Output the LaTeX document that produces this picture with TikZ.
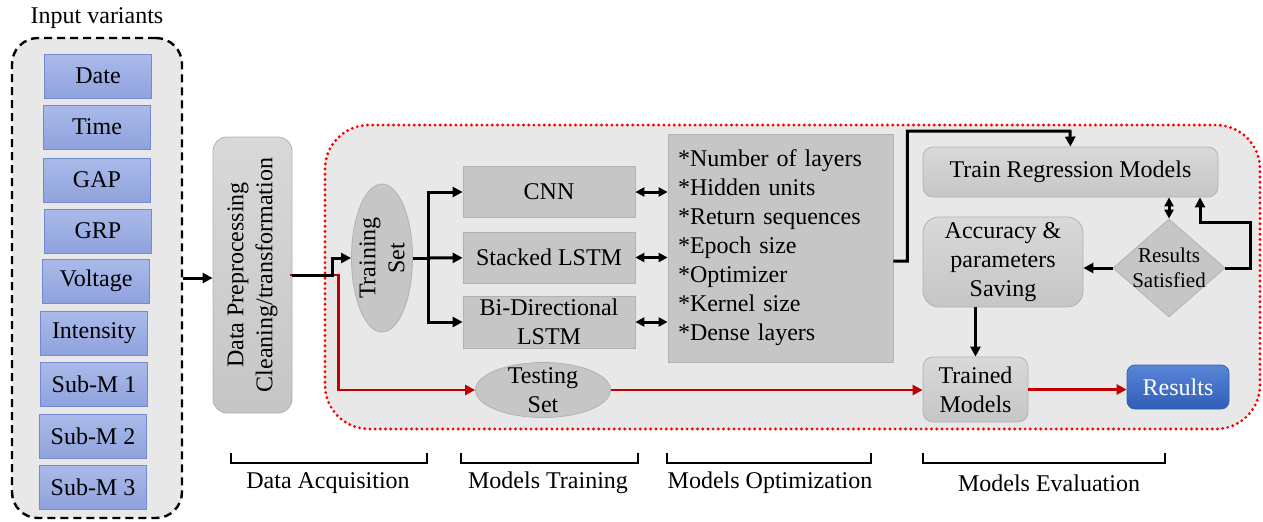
\documentclass[tikz,border=0pt]{standalone}
\usepackage{fontspec}
\setmainfont{Liberation Serif}
\usetikzlibrary{arrows.meta,shapes.geometric}
\definecolor{bglight}{HTML}{E8E8E8}
\definecolor{boxgray}{HTML}{C6C6C6}
\definecolor{boxedge}{HTML}{B2B2B2}
\definecolor{vartop}{HTML}{AABAEA}
\definecolor{varbot}{HTML}{8FA2DC}
\definecolor{varedge}{HTML}{7489D2}
\definecolor{restop}{HTML}{5A85D8}
\definecolor{resbot}{HTML}{2F5EB8}
\definecolor{darkred}{HTML}{C00000}
\begin{document}
\begin{tikzpicture}[x=0.5pt, y=-0.5pt,
    every node/.style={font=\fontsize{12}{14.5}\selectfont},
    invar/.style={draw=varedge, top color=vartop, bottom color=varbot, minimum width=53.5pt, minimum height=22pt, inner sep=0pt},
    plainbox/.style={draw=boxedge, fill=boxgray, inner sep=0pt, align=center},
    roundbox/.style={draw=boxedge, top color=gray!30, bottom color=gray!45, rounded corners=5pt, inner sep=0pt, align=center},
    oval/.style={ellipse, draw=boxedge, fill=boxgray, inner sep=0pt},
    conn/.style={line width=1.5pt, -{Triangle[length=5pt,width=5pt]}},
    dconn/.style={line width=1.5pt, {Triangle[length=4.5pt,width=4.5pt]}-{Triangle[length=4.5pt,width=4.5pt]}},
    rconn/.style={darkred, line width=1.3pt, -{Triangle[length=5pt,width=5pt]}},
    bracket/.style={line width=1.3pt}]
    \useasboundingbox (0,0) rectangle (1263,521);
    % Input variants
    \node (invtitle) at (97,18) {Input variants};
    \node[draw, dashed, dash pattern=on 4pt off 2.5pt, line width=1.2pt, fill=bglight, rounded corners=13pt, minimum width=85pt, minimum height=240pt] (inbox) at (97,278) {};
    \foreach \name/\x/\y/\txt in {v1/98/76/Date, v2/97/127/Time, v3/97/180/GAP, v4/98/231/GRP, v5/96/281/Voltage, v6/94/333/Intensity, v7/94/384/Sub-M 1, v8/93/436/Sub-M 2, v9/93/487/Sub-M 3}
        \node[invar] (\name) at (\x,\y) {\txt};
    % Preprocessing (rotated: north is its left side, south its right side)
    \node[roundbox, rotate=90, rounded corners=7pt, minimum width=138pt, minimum height=39.5pt] (dp) at (252.5,275) {Data Preprocessing\\Cleaning/transformation};
    \draw[conn] (inbox.east) -- (inbox.east -| dp.north);
    % Red frame round the models
    \draw[red, line width=1.6pt, dash pattern=on 0pt off 2.6pt, line cap=round, fill=bglight, rounded corners=22pt] (325,125) rectangle (1260,429);
    % Training and testing sets
    \node[oval, minimum width=30.5pt, minimum height=74pt] (train) at (382,258) {};
    \node[rotate=90, align=center] (trainlbl) at (train) {Training\\Set};
    \node[oval, minimum width=67.5pt, minimum height=27.5pt] (test) at (543,390) {};
    \node[align=center] (testlbl) at (test) {Testing\\Set};
    \draw[rconn] ([xshift=-1pt]dp.south) -- ++(48,0) |- (test);
    \draw[conn] (dp.south) -- ++(40,0) |- (train);
    % Models
    \node[plainbox, minimum width=86pt, minimum height=25.5pt] (cnn) at (549,192) {CNN};
    \node[plainbox, minimum width=86pt, minimum height=25.5pt] (stacked) at (549,257.5) {Stacked LSTM};
    \node[plainbox, minimum width=86pt, minimum height=26pt] (bidir) at (549,322) {Bi-Directional\\LSTM};
    \coordinate (split) at (428,258);
    \draw[line width=1.5pt] (train.east) -- (split);
    \draw[conn] (split) |- (cnn);
    \draw[conn] (split) -- (stacked);
    \draw[conn] (split) |- (bidir);
    % Hyper parameters
    \node[plainbox, fill=gray!45, minimum width=112.5pt, minimum height=114pt, text width=102.5pt, inner sep=5pt, align=left] (params) at (780.5,248) {*Number of layers\\{}*Hidden units\\{}*Return sequences\\{}*Epoch size\\{}*Optimizer\\{}*Kernel size\\{}*Dense layers};
    \draw[dconn] (cnn.east) -- (cnn.east -| params.west);
    \draw[dconn] (stacked.east) -- (stacked.east -| params.west);
    \draw[dconn] (bidir.east) -- (bidir.east -| params.west);
    % Evaluation
    \node[roundbox, minimum width=147.5pt, minimum height=25pt] (trainreg) at (1070.5,172) {Train Regression Models};
    \node[roundbox, rounded corners=8pt, minimum width=80pt, minimum height=45pt] (acc) at (1003,262) {Accuracy \&\\parameters\\Saving};
    \node[diamond, draw=boxedge, fill=boxgray, minimum width=56pt, minimum height=49pt, inner sep=0pt] (sat) at (1169,268) {};
    \node[align=center, font=\fontsize{10.5}{12.5}\selectfont] (satlbl) at (sat) {Results\\Satisfied};
    \node[roundbox, minimum width=52.5pt, minimum height=32.5pt] (trained) at (975.5,389.5) {Trained\\Models};
    \node[draw=resbot, top color=restop, bottom color=resbot, rounded corners=4pt, text=white, minimum width=51pt, minimum height=22pt, inner sep=0pt] (results) at (1178,387) {Results};
    \coordinate (top) at (1070,131);
    \coordinate (loop) at (1250,222);
    \draw[conn] ([yshift=-6.5pt]params.east) -- ++(14,0) |- (top) -- (trainreg.north);
    \draw[dconn] (sat.north) -- (sat.north |- trainreg.south);
    \draw[conn] (sat.west) -- (sat.west -| acc.east);
    \draw[conn] (sat.east) -| (loop) -| ([xshift=64.75pt]trainreg.south);
    \draw[conn] (trained.north |- acc.south) -- (trained.north);
    \draw[rconn] (test.east) -- (test.east -| trained.west);
    \draw[rconn] (trained.east) -- (trained.east -| results.west);
    % Stage brackets
    \draw[bracket] (231,453) |- (427,463) -- (427,453);
    \draw[bracket] (461,453) |- (638,463) -- (638,453);
    \draw[bracket] (667,453) |- (871,463) -- (871,453);
    \draw[bracket] (923,453) |- (1165,463) -- (1165,453);
    \node (stage1) at (328,483) {Data Acquisition};
    \node (stage2) at (548,483) {Models Training};
    \node (stage3) at (770,483) {Models Optimization};
    \node (stage4) at (1049,483) {Models Evaluation};
\end{tikzpicture}
\end{document}
